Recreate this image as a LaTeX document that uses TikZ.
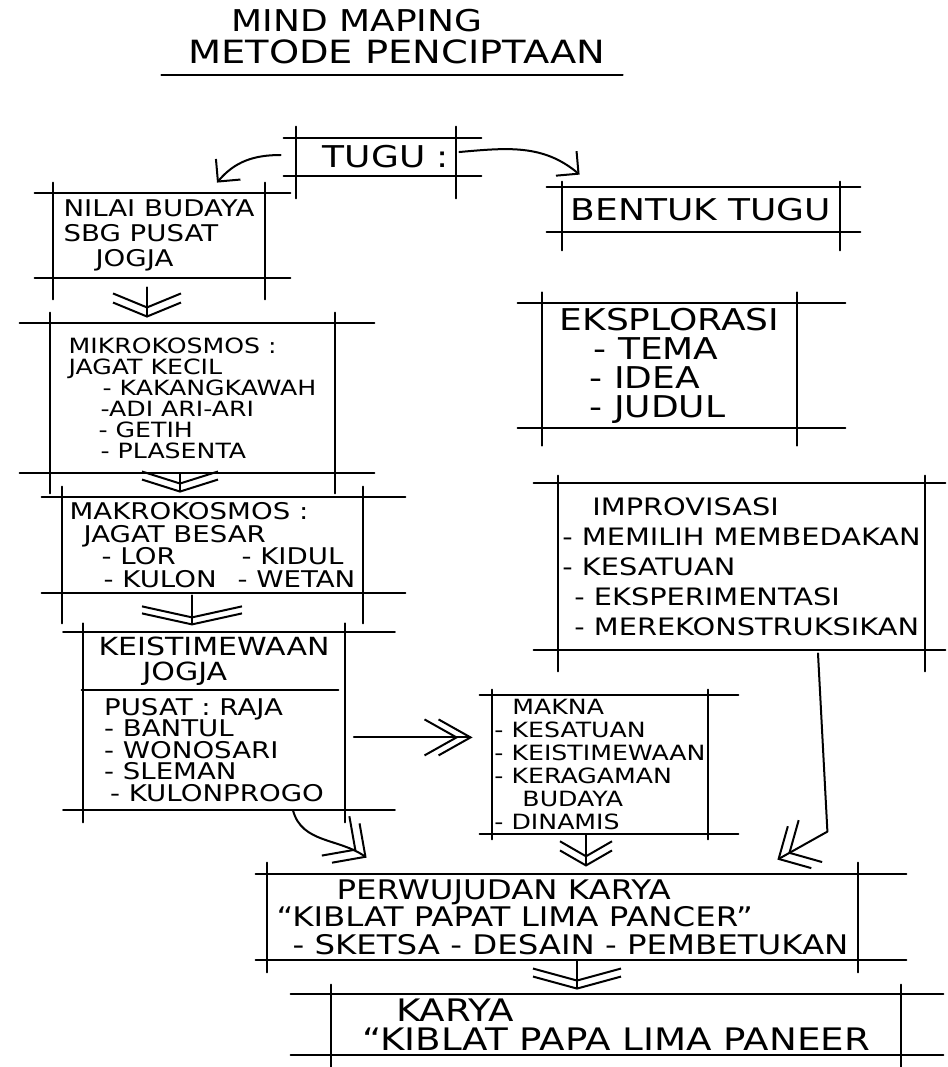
\documentclass[tikz,border=0pt]{standalone}
\usepackage{fontspec}
\setmainfont{DejaVu Sans}[FakeStretch=1.2]
\usetikzlibrary{arrows.meta,calc,positioning,fit}

\tikzset{
  pen/.style={line width=1pt,line cap=round,line join=round},
  card/.style={rectangle,inner sep=2pt,align=left},
  dchev/.style n args={3}{-{Straight Barb[length=#1,width=#2,sep=#3] Straight Barb[length=#1,width=#2,sep=0pt]}},
}

\begin{document}
\begin{tikzpicture}[x=0.5pt,y=-0.5pt,>={Straight Barb[length=8pt,width=16pt]}]
\useasboundingbox (0,0) rectangle (948,1067);

% Title
\node[font=\fontsize{15}{18}\selectfont] (title) at (357,21) {MIND MAPING};
\node[font=\fontsize{16}{19}\selectfont] (subtitle) at (397,52) {METODE PENCIPTAAN};
\draw[pen] ([xshift=-10pt,yshift=-2pt]subtitle.south west) -- ([xshift=5pt,yshift=-2pt]subtitle.south east);

% Left column
\node[card,minimum width=80pt,minimum height=19pt,font=\fontsize{15}{18}\selectfont] (tugu) at (376,157) {\hspace*{10pt}TUGU :};
\node[card,minimum width=106pt,minimum height=42.5pt,font=\fontsize{11.5}{12.5}\selectfont] (nilai) at (159,235.5)
  {NILAI BUDAYA\\SBG PUSAT\\\hspace*{16pt}JOGJA};
\node[card,minimum width=142.5pt,minimum height=75pt,font=\fontsize{10.5}{10.5}\selectfont] (mikro) at (192.5,398)
  {MIKROKOSMOS :\\JAGAT KECIL\\\hspace*{17pt}- KAKANGKAWAH\\\hspace*{16pt}-ADI ARI-ARI\\\hspace*{15pt}- GETIH\\\hspace*{16pt}- PLASENTA};
\node[card,minimum width=150.5pt,minimum height=48pt,font=\fontsize{11.5}{11.3}\selectfont] (makro) at (212.5,545)
  {MAKROKOSMOS :\\\hspace*{7pt}JAGAT BESAR\\\hspace*{16pt}\makebox[70pt][l]{- LOR}- KIDUL\\\hspace*{17pt}\makebox[67pt][l]{- KULON}- WETAN};
\node[card,minimum width=130pt,minimum height=27.5pt,font=\fontsize{12.5}{12.5}\selectfont] (keisthead) at (214,661.5)
  {KEISTIMEWAAN\\\hspace*{22pt}JOGJA};
\node[card,minimum width=130pt,minimum height=59.5pt,font=\fontsize{11.5}{10.75}\selectfont,below=0pt of keisthead] (keistbody)
  {PUSAT : RAJA\\- BANTUL\\- WONOSARI\\- SLEMAN\\\hspace*{3pt}- KULONPROGO};
\node[fit=(keisthead)(keistbody),inner sep=0pt] (keist) {};

% Right column
\node[card,minimum width=139pt,minimum height=22.5pt,font=\fontsize{15}{18}\selectfont] (bentuk) at (701,209.5) {BENTUK TUGU};
\node[card,minimum width=127.5pt,minimum height=61.5pt,font=\fontsize{15}{14.5}\selectfont] (eksp) at (669.5,365.5)
  {EKSPLORASI\\\hspace*{17pt}- TEMA\\\hspace*{15pt}- IDEA\\\hspace*{15pt}- JUDUL};
\node[card,minimum width=183.5pt,minimum height=83.5pt,font=\fontsize{12}{15}\selectfont] (impro) at (741.5,566.5)
  {\hspace*{15pt}IMPROVISASI\\- MEMILIH MEMBEDAKAN\\- KESATUAN\\\hspace*{6pt}- EKSPERIMENTASI\\\hspace*{6pt}- MEREKONSTRUKSIKAN};
\node[card,inner xsep=1pt,inner ysep=1pt,minimum width=108pt,minimum height=69.5pt,font=\fontsize{10.5}{11.5}\selectfont] (makna) at (600,764.5)
  {\hspace*{9pt}MAKNA\\- KESATUAN\\- KEISTIMEWAAN\\- KERAGAMAN\\\hspace*{14pt}BUDAYA\\- DINAMIS};

% Bottom
\node[card,minimum width=295.5pt,minimum height=43pt,font=\fontsize{13.5}{13.75}\selectfont] (perw) at (562.5,917)
  {\hspace*{30pt}PERWUJUDAN KARYA\\“KIBLAT PAPAT LIMA PANCER”\\\hspace*{8pt}- SKETSA - DESAIN - PEMBETUKAN};
\node[card,minimum width=285pt,minimum height=30.5pt,font=\fontsize{15.5}{14.5}\selectfont] (karya) at (616,1024.5)
  {\hspace*{17pt}KARYA\\“KIBLAT PAPA LIMA PANEER};

% Sketchy frames (lines run past the corners)
\foreach \bx/\hl/\hr/\vt/\vb in {tugu/6/12.5/5.5/11, nilai/9/12.5/5/10.5, mikro/15/19.5/5/10,
    makro/10/21/5/15, keist/10/25/4.5/6, bentuk/7.5/10/2.5/9, eksp/12/24/5.5/9,
    impro/12/10/3.5/10.5, makna/6/15/2.5/2.5, perw/5.5/24/5.5/6, karya/20/21/4.5/6}{
  \draw[pen] ([xshift=-\hl pt]\bx.north west) -- ([xshift=\hr pt]\bx.north east);
  \draw[pen] ([xshift=-\hl pt]\bx.south west) -- ([xshift=\hr pt]\bx.south east);
  \draw[pen] ([yshift=\vt pt]\bx.north west) -- ([yshift=-\vb pt]\bx.south west);
  \draw[pen] ([yshift=\vt pt]\bx.north east) -- ([yshift=-\vb pt]\bx.south east);
}
\draw[pen] ([xshift=-1pt]keisthead.south west) -- ([xshift=-3pt]keisthead.south east);

% Connectors
\draw[pen,->] ([xshift=-7.5pt,yshift=1pt]tugu.west) to[out=180,in=50] ([xshift=29pt,yshift=5pt]nilai.north);
\draw[pen,->] ([xshift=1.5pt,yshift=2.5pt]tugu.east) to[out=5,in=140] ([xshift=9pt,yshift=6pt]bentuk.north west);
\draw[pen,dchev={7pt}{34pt}{-3.5pt}] ([xshift=-6pt,yshift=-4.5pt]nilai.south) coordinate (n1) -- ($(n1 |- mikro.north)+(0,2.5pt)$);
\draw[pen,dchev={6pt}{38pt}{-3pt}] ([xshift=-6.25pt]mikro.south) coordinate (m1) -- ($(m1 |- makro.north)+(0,2pt)$);
\draw[pen,dchev={5.5pt}{50pt}{-3pt}] ([xshift=-10.25pt,yshift=-1pt]makro.south) coordinate (m2) -- ($(m2 |- keist.north)+(0,3.5pt)$);
\draw[pen,dchev={16pt}{18pt}{-10.5pt}] ([xshift=4.5pt,yshift=-8pt]keist.east) coordinate (k1) -- ($(k1 -| makna.west)+(-9.5pt,0)$);
\draw[pen,dchev={12pt}{24pt}{-7pt}] ([xshift=39.5pt]keist.south) to[out=-75,in=145] ([xshift=50pt,yshift=8pt]perw.north west);
\draw[pen,dchev={7.5pt}{26pt}{-4pt}] ([xshift=-7pt]makna.south) coordinate (m3) -- ($(m3 |- perw.north)+(0,3.5pt)$);
\draw[pen,dchev={12pt}{24pt}{-7pt}] ([xshift=38.25pt,yshift=-1.5pt]impro.south) -- ([xshift=-15.5pt,yshift=21pt]perw.north east) -- ([xshift=-40.5pt,yshift=7pt]perw.north east);
\draw[pen,dchev={6pt}{44pt}{-3pt}] ([xshift=7.25pt]perw.south) coordinate (p1) -- ($(p1 |- karya.north)+(0,2pt)$);
\end{tikzpicture}
\end{document}
